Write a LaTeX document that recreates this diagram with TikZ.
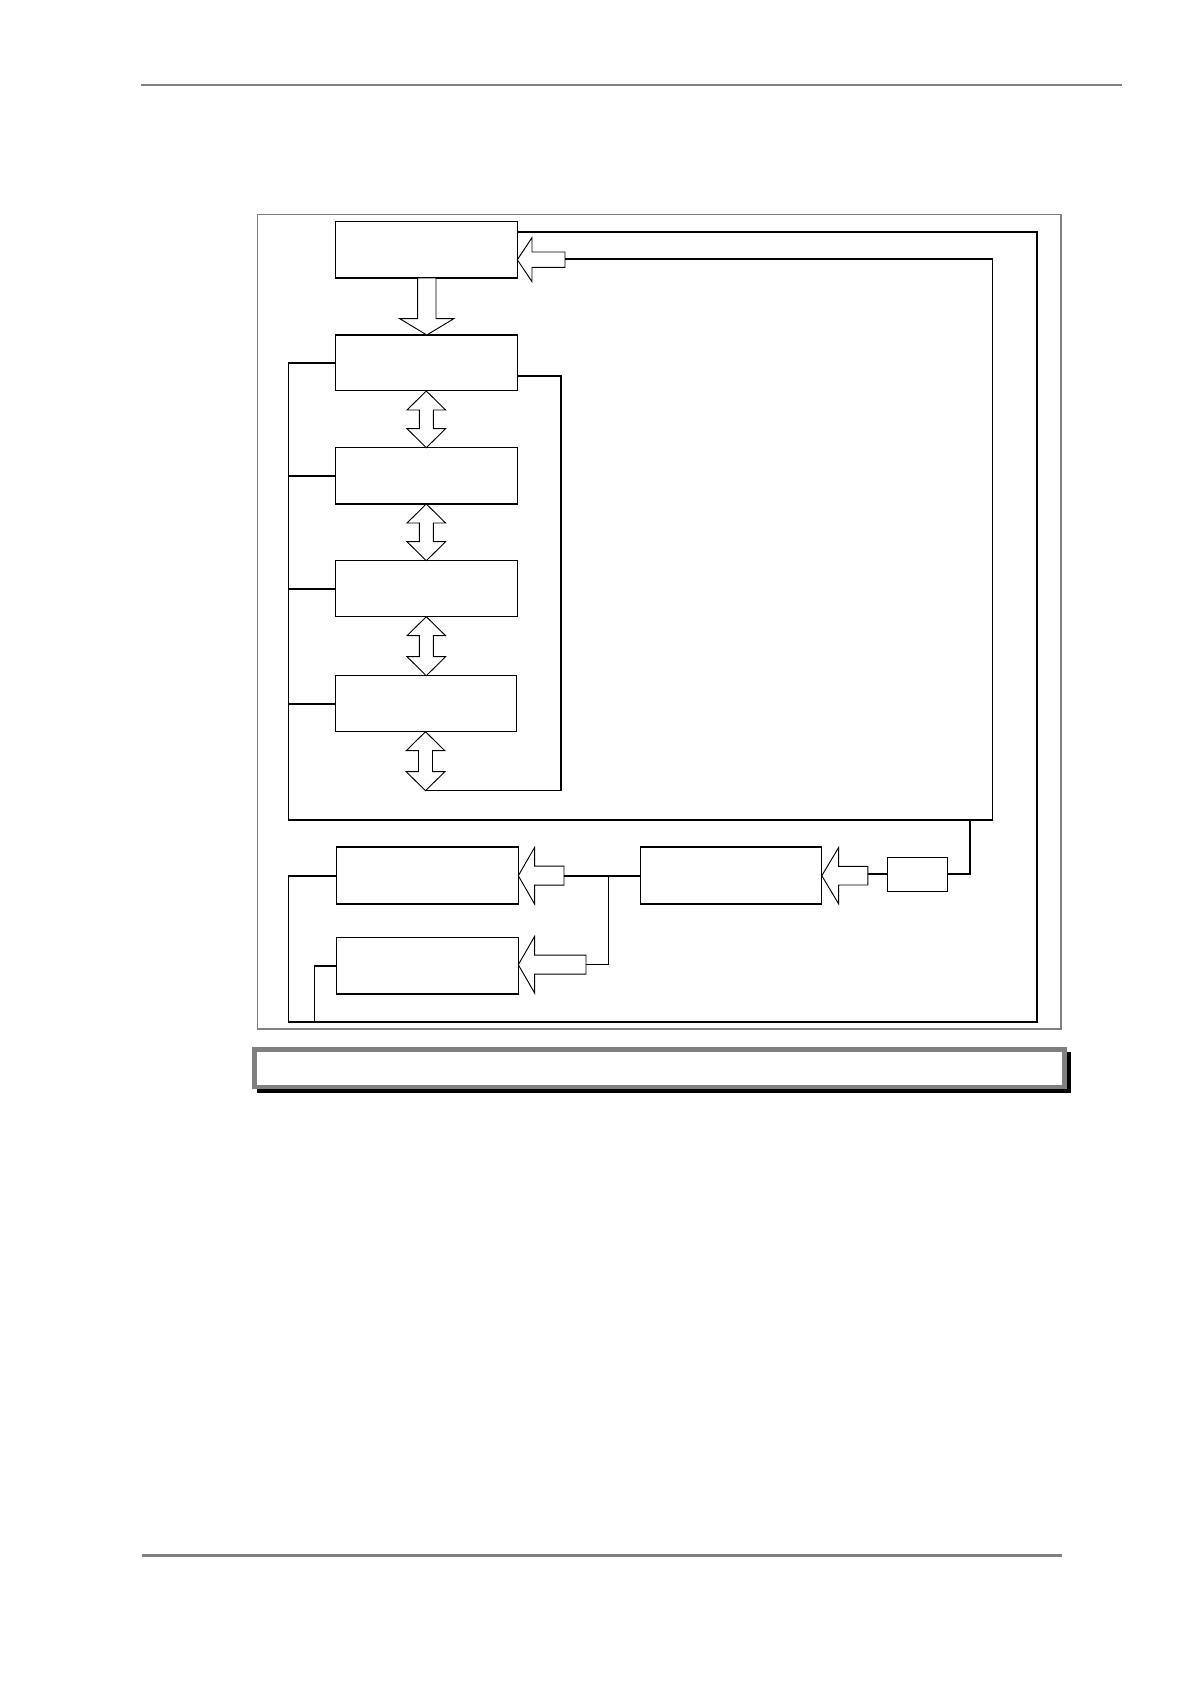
\documentclass[tikz,border=0pt]{standalone}
\usetikzlibrary{fit}
\definecolor{gray50}{HTML}{808080}
\newcommand\blockLeft[6]{% tipx, tipy, backx, headhalf, shafthalf, tailx
  \draw[barrow] (#1,#2) -- (#3,#2-#4) -- (#3,#2-#5) -- (#6,#2-#5) -- (#6,#2+#5) -- (#3,#2+#5) -- (#3,#2+#4) -- cycle;}
\newcommand\blockDouble[3]{% cx, ytop, ybot
  \draw[barrow] (#1,#2) -- (#1+19.3,#2+19) -- (#1+7,#2+19) -- (#1+7,#3-19) -- (#1+19.3,#3-19) -- (#1,#3) -- (#1-19.3,#3-19) -- (#1-7,#3-19) -- (#1-7,#2+19) -- (#1-19.3,#2+19) -- cycle;}
\begin{document}
\begin{tikzpicture}[x=0.75pt,y=-0.75pt,
  blk/.style={draw=black,line width=1pt,fill=white,inner sep=0pt},
  wire/.style={draw=black,line width=1.15pt,line join=miter},
  barrow/.style={draw=black,line width=0.7pt,fill=white,line join=miter},
  rulestyle/.style={draw=gray50,line width=2.2pt}]
\useasboundingbox (0,0) rectangle (1191,1684);
% page rules
\draw[rulestyle] (140.5,85) -- (1122,85);
\draw[rulestyle] (142,1555.3) -- (1062,1555.3);
% gray frame
\draw[draw=gray50,line width=1pt] (257.3,214.3) rectangle (1061,1029);
% caption box
\fill[black] (257,1051.7) rectangle (1070.7,1092.7);
\draw[draw=gray50,line width=3.2pt,fill=white] (254.5,1049.5) rectangle (1064.5,1087);
% boxes
\node[blk, fit={(335.7,221.7) (517.3,278)}] (b1) {};
\node[blk, fit={(335.7,335) (517.3,390.7)}] (b2) {};
\node[blk, fit={(335.7,447.7) (517.3,504)}] (b3) {};
\node[blk, fit={(335.7,560.7) (517.3,616.7)}] (b4) {};
\node[blk, fit={(335.2,675.7) (516.8,731.7)}] (b5) {};
\node[blk, fit={(336.6,847) (518.3,904)}] (b6) {};
\node[blk, fit={(640.7,847) (821.8,904)}] (b7) {};
\node[blk, fit={(336.6,937.7) (518.3,994)}] (b8) {};
\node[blk, line width=0.8pt, fit={(887.7,857.7) (947.9,891.3)}] (s) {};
% block arrows
\blockLeft{517.3}{259.7}{532}{22}{7.7}{565}
\draw[barrow] (426.8,335) -- (426.8+27,318.7) -- (426.8+9.2,318.7) -- (426.8+9.2,278) -- (426.8-9.2,278) -- (426.8-9.2,318.7) -- (426.8-27,318.7) -- cycle;
\blockDouble{426.3}{391}{447.7}
\blockDouble{426.3}{504}{560.7}
\blockDouble{426.3}{616.7}{675.7}
\blockDouble{425.5}{731.7}{790.7}
\blockLeft{518.3}{875.7}{534.6}{28.3}{9.5}{564}
\blockLeft{518.3}{964.7}{534.6}{28.3}{9.5}{586}
\blockLeft{821.8}{875.7}{838.7}{28.3}{9.3}{867.8}
% named wire points
\coordinate (a1tail) at (565,259);
\coordinate (oTR) at (1037,232);
\coordinate (oBR) at (1037,1022);
\coordinate (oBL) at (288.7,1022);
\coordinate (oB8) at (314.7,1022);
\coordinate (iTR) at (992.7,259);
\coordinate (iBR) at (992.7,820);
\coordinate (iBL) at (288.7,820);
\coordinate (rTop) at (561,376);
\coordinate (rBot) at (561,790.7);
\coordinate (dTip) at (425.5,790.7);
\coordinate (sTap) at (969.8,820);
\coordinate (sIn) at (969.8,874);
\coordinate (sTail) at (867.8,874);
\coordinate (a6tail) at (564,876);
\coordinate (jn) at (608.6,876);
\coordinate (jnB) at (608.6,964.7);
\coordinate (a8tail) at (586,964.7);
% outer loop
\draw[wire] (b1.east |- oTR) -- (oTR) -- (oBR) -- (oBL) |- (b6.west |- 0,876);
\draw[wire] (oB8) |- (b8.west |- 0,966);
% inner loop / bus
\draw[wire] (a1tail) -- (iTR) -- (iBR) -- (iBL) |- (b2.west |- 0,363);
\draw[wire] (iBL |- 0,476) -- (b3.west |- 0,476);
\draw[wire] (iBL |- 0,589) -- (b4.west |- 0,589);
\draw[wire] (iBL |- 0,704) -- (b5.west |- 0,704);
% right loop from b2
\draw[wire] (b2.east |- rTop) -- (rTop) -- (rBot) -- (dTip);
% small box feed
\draw[wire] (sTap) -- (sIn) -- (s.east |- sIn);
\draw[wire] (s.west |- sTail) -- (sTail);
% distribution to b6, b8, b7
\draw[wire] (a6tail) -- (b7.west |- a6tail);
\draw[wire] (jn) -- (jnB) -- (a8tail);
\end{tikzpicture}
\end{document}
